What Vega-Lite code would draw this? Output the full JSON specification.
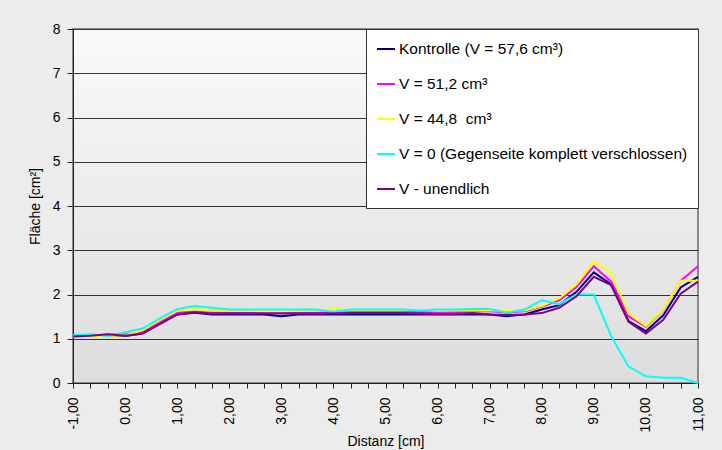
{
  "$schema": "https://vega.github.io/schema/vega-lite/v6.json",
  "width": 625,
  "height": 354,
  "autosize": {"type": "none"},
  "padding": {"left": 73, "top": 29, "right": 24, "bottom": 67},
  "background": "#ececec",
  "config": {
    "font": "Liberation Sans",
    "view": {
      "fill": {
        "gradient": "linear",
        "x1": 0, "y1": 0, "x2": 0, "y2": 1,
        "stops": [
          {"offset": 0, "color": "#fafafa"},
          {"offset": 1, "color": "#dddddd"}
        ]
      },
      "stroke": "#8a8a8a",
      "strokeWidth": 2
    }
  },
  "data": {
    "values": [
      {"Distanz": -1, "Kontrolle (V = 57,6 cm³)": 1.05, "V = 51,2 cm³": 1.05, "V = 44,8\u00a0 cm³": 1.04, "V = 0 (Gegenseite komplett verschlossen)": 1.08, "V - unendlich": 1.05},
      {"Distanz": -0.667, "Kontrolle (V = 57,6 cm³)": 1.07, "V = 51,2 cm³": 1.07, "V = 44,8\u00a0 cm³": 1.05, "V = 0 (Gegenseite komplett verschlossen)": 1.10, "V - unendlich": 1.07},
      {"Distanz": -0.333, "Kontrolle (V = 57,6 cm³)": 1.08, "V = 51,2 cm³": 1.09, "V = 44,8\u00a0 cm³": 1.06, "V = 0 (Gegenseite komplett verschlossen)": 1.06, "V - unendlich": 1.10},
      {"Distanz": 0, "Kontrolle (V = 57,6 cm³)": 1.06, "V = 51,2 cm³": 1.10, "V = 44,8\u00a0 cm³": 1.08, "V = 0 (Gegenseite komplett verschlossen)": 1.15, "V - unendlich": 1.07},
      {"Distanz": 0.333, "Kontrolle (V = 57,6 cm³)": 1.12, "V = 51,2 cm³": 1.15, "V = 44,8\u00a0 cm³": 1.19, "V = 0 (Gegenseite komplett verschlossen)": 1.23, "V - unendlich": 1.12},
      {"Distanz": 0.667, "Kontrolle (V = 57,6 cm³)": 1.34, "V = 51,2 cm³": 1.38, "V = 44,8\u00a0 cm³": 1.42, "V = 0 (Gegenseite komplett verschlossen)": 1.46, "V - unendlich": 1.33},
      {"Distanz": 1, "Kontrolle (V = 57,6 cm³)": 1.55, "V = 51,2 cm³": 1.59, "V = 44,8\u00a0 cm³": 1.63, "V = 0 (Gegenseite komplett verschlossen)": 1.67, "V - unendlich": 1.55},
      {"Distanz": 1.333, "Kontrolle (V = 57,6 cm³)": 1.59, "V = 51,2 cm³": 1.61, "V = 44,8\u00a0 cm³": 1.68, "V = 0 (Gegenseite komplett verschlossen)": 1.74, "V - unendlich": 1.60},
      {"Distanz": 1.667, "Kontrolle (V = 57,6 cm³)": 1.55, "V = 51,2 cm³": 1.59, "V = 44,8\u00a0 cm³": 1.64, "V = 0 (Gegenseite komplett verschlossen)": 1.70, "V - unendlich": 1.57},
      {"Distanz": 2, "Kontrolle (V = 57,6 cm³)": 1.55, "V = 51,2 cm³": 1.59, "V = 44,8\u00a0 cm³": 1.63, "V = 0 (Gegenseite komplett verschlossen)": 1.66, "V - unendlich": 1.57},
      {"Distanz": 2.333, "Kontrolle (V = 57,6 cm³)": 1.55, "V = 51,2 cm³": 1.59, "V = 44,8\u00a0 cm³": 1.63, "V = 0 (Gegenseite komplett verschlossen)": 1.66, "V - unendlich": 1.57},
      {"Distanz": 2.667, "Kontrolle (V = 57,6 cm³)": 1.55, "V = 51,2 cm³": 1.58, "V = 44,8\u00a0 cm³": 1.62, "V = 0 (Gegenseite komplett verschlossen)": 1.66, "V - unendlich": 1.57},
      {"Distanz": 3, "Kontrolle (V = 57,6 cm³)": 1.51, "V = 51,2 cm³": 1.58, "V = 44,8\u00a0 cm³": 1.62, "V = 0 (Gegenseite komplett verschlossen)": 1.66, "V - unendlich": 1.57},
      {"Distanz": 3.333, "Kontrolle (V = 57,6 cm³)": 1.55, "V = 51,2 cm³": 1.59, "V = 44,8\u00a0 cm³": 1.63, "V = 0 (Gegenseite komplett verschlossen)": 1.66, "V - unendlich": 1.57},
      {"Distanz": 3.667, "Kontrolle (V = 57,6 cm³)": 1.55, "V = 51,2 cm³": 1.59, "V = 44,8\u00a0 cm³": 1.64, "V = 0 (Gegenseite komplett verschlossen)": 1.66, "V - unendlich": 1.57},
      {"Distanz": 4, "Kontrolle (V = 57,6 cm³)": 1.55, "V = 51,2 cm³": 1.59, "V = 44,8\u00a0 cm³": 1.67, "V = 0 (Gegenseite komplett verschlossen)": 1.61, "V - unendlich": 1.57},
      {"Distanz": 4.333, "Kontrolle (V = 57,6 cm³)": 1.55, "V = 51,2 cm³": 1.60, "V = 44,8\u00a0 cm³": 1.65, "V = 0 (Gegenseite komplett verschlossen)": 1.66, "V - unendlich": 1.58},
      {"Distanz": 4.667, "Kontrolle (V = 57,6 cm³)": 1.55, "V = 51,2 cm³": 1.60, "V = 44,8\u00a0 cm³": 1.65, "V = 0 (Gegenseite komplett verschlossen)": 1.66, "V - unendlich": 1.58},
      {"Distanz": 5, "Kontrolle (V = 57,6 cm³)": 1.55, "V = 51,2 cm³": 1.60, "V = 44,8\u00a0 cm³": 1.65, "V = 0 (Gegenseite komplett verschlossen)": 1.66, "V - unendlich": 1.58},
      {"Distanz": 5.333, "Kontrolle (V = 57,6 cm³)": 1.55, "V = 51,2 cm³": 1.60, "V = 44,8\u00a0 cm³": 1.65, "V = 0 (Gegenseite komplett verschlossen)": 1.66, "V - unendlich": 1.58},
      {"Distanz": 5.667, "Kontrolle (V = 57,6 cm³)": 1.55, "V = 51,2 cm³": 1.60, "V = 44,8\u00a0 cm³": 1.65, "V = 0 (Gegenseite komplett verschlossen)": 1.64, "V - unendlich": 1.57},
      {"Distanz": 6, "Kontrolle (V = 57,6 cm³)": 1.55, "V = 51,2 cm³": 1.60, "V = 44,8\u00a0 cm³": 1.63, "V = 0 (Gegenseite komplett verschlossen)": 1.66, "V - unendlich": 1.56},
      {"Distanz": 6.333, "Kontrolle (V = 57,6 cm³)": 1.55, "V = 51,2 cm³": 1.60, "V = 44,8\u00a0 cm³": 1.64, "V = 0 (Gegenseite komplett verschlossen)": 1.66, "V - unendlich": 1.56},
      {"Distanz": 6.667, "Kontrolle (V = 57,6 cm³)": 1.55, "V = 51,2 cm³": 1.62, "V = 44,8\u00a0 cm³": 1.64, "V = 0 (Gegenseite komplett verschlossen)": 1.67, "V - unendlich": 1.58},
      {"Distanz": 7, "Kontrolle (V = 57,6 cm³)": 1.55, "V = 51,2 cm³": 1.62, "V = 44,8\u00a0 cm³": 1.64, "V = 0 (Gegenseite komplett verschlossen)": 1.67, "V - unendlich": 1.55},
      {"Distanz": 7.333, "Kontrolle (V = 57,6 cm³)": 1.51, "V = 51,2 cm³": 1.60, "V = 44,8\u00a0 cm³": 1.63, "V = 0 (Gegenseite komplett verschlossen)": 1.59, "V - unendlich": 1.54},
      {"Distanz": 7.667, "Kontrolle (V = 57,6 cm³)": 1.55, "V = 51,2 cm³": 1.62, "V = 44,8\u00a0 cm³": 1.64, "V = 0 (Gegenseite komplett verschlossen)": 1.66, "V - unendlich": 1.55},
      {"Distanz": 8, "Kontrolle (V = 57,6 cm³)": 1.66, "V = 51,2 cm³": 1.72, "V = 44,8\u00a0 cm³": 1.74, "V = 0 (Gegenseite komplett verschlossen)": 1.87, "V - unendlich": 1.58},
      {"Distanz": 8.333, "Kontrolle (V = 57,6 cm³)": 1.76, "V = 51,2 cm³": 1.87, "V = 44,8\u00a0 cm³": 1.91, "V = 0 (Gegenseite komplett verschlossen)": 1.78, "V - unendlich": 1.70},
      {"Distanz": 8.667, "Kontrolle (V = 57,6 cm³)": 2.06, "V = 51,2 cm³": 2.17, "V = 44,8\u00a0 cm³": 2.23, "V = 0 (Gegenseite komplett verschlossen)": 2.00, "V - unendlich": 1.96},
      {"Distanz": 9, "Kontrolle (V = 57,6 cm³)": 2.50, "V = 51,2 cm³": 2.64, "V = 44,8\u00a0 cm³": 2.75, "V = 0 (Gegenseite komplett verschlossen)": 2.00, "V - unendlich": 2.40},
      {"Distanz": 9.333, "Kontrolle (V = 57,6 cm³)": 2.23, "V = 51,2 cm³": 2.29, "V = 44,8\u00a0 cm³": 2.48, "V = 0 (Gegenseite komplett verschlossen)": 1.06, "V - unendlich": 2.21},
      {"Distanz": 9.667, "Kontrolle (V = 57,6 cm³)": 1.40, "V = 51,2 cm³": 1.51, "V = 44,8\u00a0 cm³": 1.57, "V = 0 (Gegenseite komplett verschlossen)": 0.37, "V - unendlich": 1.38},
      {"Distanz": 10, "Kontrolle (V = 57,6 cm³)": 1.17, "V = 51,2 cm³": 1.27, "V = 44,8\u00a0 cm³": 1.29, "V = 0 (Gegenseite komplett verschlossen)": 0.15, "V - unendlich": 1.12},
      {"Distanz": 10.333, "Kontrolle (V = 57,6 cm³)": 1.53, "V = 51,2 cm³": 1.65, "V = 44,8\u00a0 cm³": 1.66, "V = 0 (Gegenseite komplett verschlossen)": 0.12, "V - unendlich": 1.43},
      {"Distanz": 10.667, "Kontrolle (V = 57,6 cm³)": 2.16, "V = 51,2 cm³": 2.31, "V = 44,8\u00a0 cm³": 2.31, "V = 0 (Gegenseite komplett verschlossen)": 0.12, "V - unendlich": 2.02},
      {"Distanz": 11, "Kontrolle (V = 57,6 cm³)": 2.40, "V = 51,2 cm³": 2.64, "V = 44,8\u00a0 cm³": 2.31, "V = 0 (Gegenseite komplett verschlossen)": 0.00, "V - unendlich": 2.29}
    ]
  },
  "transform": [
    {
      "fold": [
        "Kontrolle (V = 57,6 cm³)",
        "V = 51,2 cm³",
        "V = 44,8\u00a0 cm³",
        "V = 0 (Gegenseite komplett verschlossen)",
        "V - unendlich"
      ],
      "as": ["Serie", "Wert"]
    }
  ],
  "mark": {"type": "line", "strokeWidth": 2},
  "encoding": {
    "x": {
      "field": "Distanz",
      "type": "quantitative",
      "scale": {"domain": [-1, 11], "nice": false, "zero": false},
      "axis": {
        "title": "Distanz [cm]",
        "values": [-1, -0.667, -0.333, 0, 0.333, 0.667, 1, 1.333, 1.667, 2, 2.333, 2.667, 3, 3.333, 3.667, 4, 4.333, 4.667, 5, 5.333, 5.667, 6, 6.333, 6.667, 7, 7.333, 7.667, 8, 8.333, 8.667, 9, 9.333, 9.667, 10, 10.333, 10.667, 11],
        "labelExpr": "abs(datum.value - round(datum.value)) < 0.01 ? replace(replace(format(datum.value, '.2f'), '.', ','), '\u2212', '-') : ''",
        "labelAngle": -90,
        "labelFontSize": 14,
        "labelColor": "#000000",
        "labelPadding": 9,
        "labelOverlap": false,
        "labelFlush": false,
        "labelBound": false,
        "tickSize": 5,
        "tickColor": "#222222",
        "domainColor": "#222222",
        "grid": false,
        "titleFontSize": 14,
        "titleFontWeight": "normal",
        "titleColor": "#000000",
        "titlePadding": 2
      }
    },
    "y": {
      "field": "Wert",
      "type": "quantitative",
      "scale": {"domain": [0, 8], "nice": false},
      "axis": {
        "title": "Fläche [cm²]",
        "values": [0, 1, 2, 3, 4, 5, 6, 7, 8],
        "labelFontSize": 14,
        "labelColor": "#000000",
        "labelPadding": 7,
        "tickSize": 6,
        "tickColor": "#222222",
        "domainColor": "#222222",
        "grid": true,
        "gridColor": "#333333",
        "gridOpacity": 1,
        "titleFontSize": 14,
        "titleFontWeight": "normal",
        "titleColor": "#000000",
        "titlePadding": 10
      }
    },
    "color": {
      "field": "Serie",
      "type": "nominal",
      "scale": {
        "domain": [
          "Kontrolle (V = 57,6 cm³)",
          "V = 51,2 cm³",
          "V = 44,8\u00a0 cm³",
          "V = 0 (Gegenseite komplett verschlossen)",
          "V - unendlich"
        ],
        "range": ["#000080", "#ff00ff", "#ffff00", "#00ffff", "#800080"]
      },
      "legend": {
        "title": null,
        "orient": "top-right",
        "offset": 0,
        "symbolType": "stroke",
        "symbolSize": 324,
        "symbolStrokeWidth": 2,
        "labelFontSize": 15.5,
        "labelColor": "#000000",
        "labelLimit": 400,
        "labelOffset": 3,
        "rowPadding": 16,
        "padding": 10,
        "fillColor": "#ffffff",
        "strokeColor": "#333333"
      }
    }
  }
}
